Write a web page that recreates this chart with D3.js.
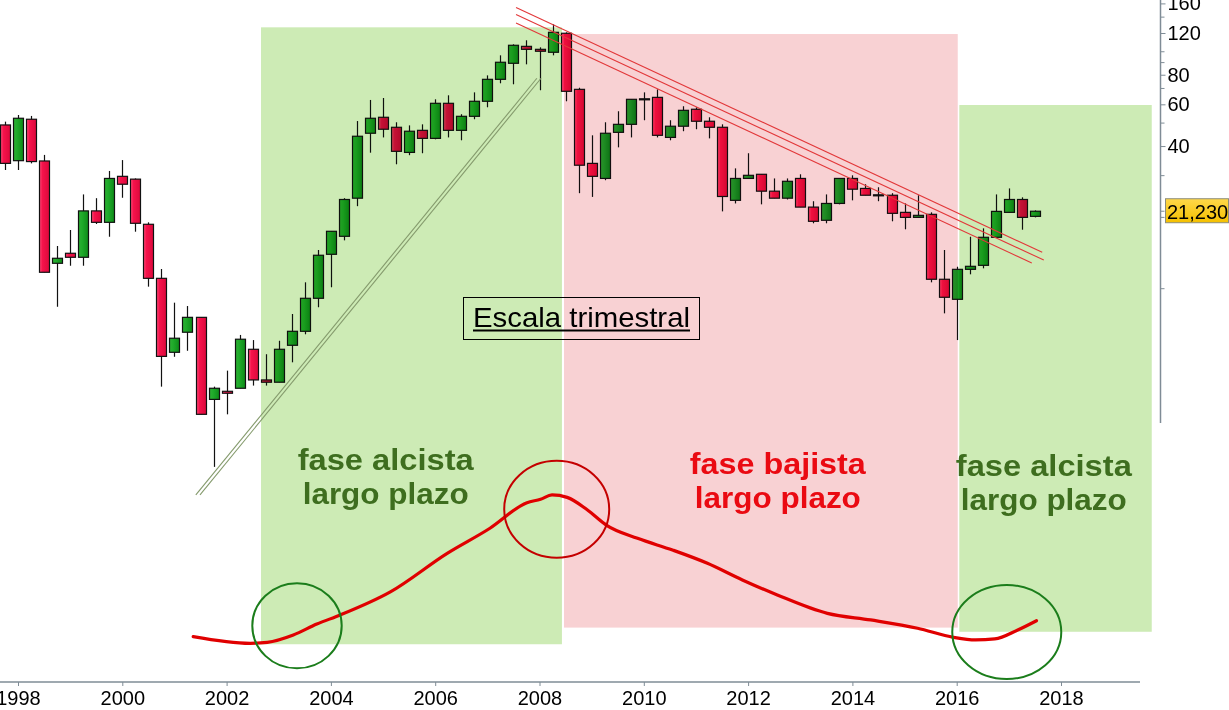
<!DOCTYPE html>
<meta charset="utf-8">
<script src="https://d3js.org/d3.v7.min.js"></script>
<style>
body { margin: 0; background: #fff; }
svg { display: block; font-family: "Liberation Sans", Arial, sans-serif; }
.candles { mix-blend-mode: multiply; }
</style>
<div id="chart"></div>
<script>

// quarterly candles, 1997Q4 .. 2017Q3
var quarters = [
  "1997Q4",
  "1998Q1","1998Q2","1998Q3","1998Q4","1999Q1","1999Q2","1999Q3","1999Q4",
  "2000Q1","2000Q2","2000Q3","2000Q4","2001Q1","2001Q2","2001Q3","2001Q4",
  "2002Q1","2002Q2","2002Q3","2002Q4","2003Q1","2003Q2","2003Q3","2003Q4",
  "2004Q1","2004Q2","2004Q3","2004Q4","2005Q1","2005Q2","2005Q3","2005Q4",
  "2006Q1","2006Q2","2006Q3","2006Q4","2007Q1","2007Q2","2007Q3","2007Q4",
  "2008Q1","2008Q2","2008Q3","2008Q4","2009Q1","2009Q2","2009Q3","2009Q4",
  "2010Q1","2010Q2","2010Q3","2010Q4","2011Q1","2011Q2","2011Q3","2011Q4",
  "2012Q1","2012Q2","2012Q3","2012Q4","2013Q1","2013Q2","2013Q3","2013Q4",
  "2014Q1","2014Q2","2014Q3","2014Q4","2015Q1","2015Q2","2015Q3","2015Q4",
  "2016Q1","2016Q2","2016Q3","2016Q4","2017Q1","2017Q2","2017Q3"
];
var openV = [49.1,
  34.7,51.9,34.6,12.80,14.11,13.57,21.3,19.06,
  29.8,29.0,18.70,11.06,5.39,6.55,7.57,3.41,
  3.69,3.80,5.55,4.12,4.03,5.77,6.61,9.11,
  13.97,16.64,24.1,45.3,52.9,48.0,37.6,46.6,
  43.1,60.6,46.6,53.4,61.8,76.5,89.4,105.4,
  102.4,99.5,119.7,69.4,33.8,29.2,45.7,49.4,
  63.3,64.2,43.5,48.5,57.2,50.9,48.0,23.6,
  29.2,30.4,25.8,24.1,29.2,22.1,19.44,22.9,
  29.2,26.5,24.9,24.8,21.0,20.0,20.6,10.96,
  9.02,12.07,12.55,16.48,21.0,23.8,20.2];
var highV = [50.7,
  54.1,53.6,36.7,15.14,17.69,25.0,24.1,31.4,
  34.9,29.2,19.06,12.11,8.73,8.45,7.57,3.86,
  4.51,6.38,6.07,5.29,6.03,7.82,10.64,14.57,
  17.47,24.1,51.0,62.6,63.8,50.4,48.9,49.4,
  63.0,65.5,54.5,67.4,79.5,96.6,107.5,111.8,
  104.4,130.6,120.8,70.5,44.4,50.4,56.1,63.0,
  67.4,69.4,51.4,58.9,58.3,52.9,49.4,32.2,
  37.3,30.4,29.2,29.2,30.4,23.4,25.0,29.2,
  30.1,27.6,26.8,25.3,22.9,24.8,21.0,14.57,
  12.38,16.57,17.98,25.0,26.5,24.3,21.4];
var lowV = [31.7,
  31.7,33.8,11.73,8.39,12.50,12.50,18.75,16.57,
  24.2,17.40,10.20,3.86,5.16,5.47,2.95,1.77,
  2.95,3.80,3.90,3.90,4.03,4.89,6.42,8.35,
  10.14,16.0,22.3,37.5,43.5,33.5,36.6,37.3,
  42.7,43.5,42.3,51.9,58.3,73.6,72.9,88.5,
  68.8,96.6,61.8,25.3,24.4,28.7,39.5,43.5,
  51.4,43.5,42.3,46.2,47.1,43.1,21.2,22.9,
  29.2,22.7,24.1,23.8,22.1,18.88,18.88,22.7,
  23.6,24.8,23.4,19.25,17.81,20.0,10.64,7.87,
  6.07,11.50,12.19,16.48,21.0,17.74,20.0];
var closeV = [33.8,
  52.4,34.4,11.73,13.44,13.57,21.3,19.06,29.2,
  27.6,18.88,11.06,5.18,6.18,7.57,2.95,3.80,
  3.62,6.12,4.12,4.03,5.55,6.61,9.11,13.84,
  17.47,23.8,44.0,52.4,47.1,38.0,46.2,43.1,
  60.6,46.6,53.4,61.8,76.5,90.3,106.5,102.4,
  100.5,120.8,68.1,33.2,29.8,45.3,49.4,63.0,
  63.3,44.4,48.5,56.6,50.9,48.0,24.5,29.2,
  30.1,25.8,24.1,28.4,22.1,19.25,22.9,29.2,
  26.3,24.8,24.9,20.8,20.0,20.4,10.96,9.20,
  12.07,12.43,16.48,21.2,23.8,20.0,21.23];

// long-term indicator (lower panel)
var indDates = [2001.36, 2002.45, 2002.78, 2003.28, 2003.73, 2004.18, 2005.14, 2006.23,
  2007.05, 2007.76, 2008.02, 2008.24, 2008.53, 2008.92, 2009.28, 2009.88, 2010.55,
  2011.22, 2011.89, 2012.56, 2013.52, 2014.35, 2015.25, 2015.94, 2016.36, 2016.73,
  2017.17, 2017.53];
var indValues = [8.4, 4.2, 4.8, 9.4, 16.2, 21.9, 36.3, 60.4,
  76.1, 92.1, 94.2, 96.9, 95.4, 87.5, 78.1, 69.8, 62.5,
  54.2, 43.8, 34.4, 22.9, 18.8, 13.6, 7.9, 6.3, 6.9,
  12.5, 18.3];

// phases
var phaseNames = ["alcista", "bajista", "alcista"];
var phaseStart = [2002.66, 2008.47, 2016.05];
var phaseEnd = [2008.43, 2016.02, 2019.74];
var phaseTop = [126.8, 118.8, 59.6];     // price
var phaseBottom = [3.6, 14, 11.4];       // indicator
var phaseLabel1 = ["fase alcista", "fase bajista", "fase alcista"];
var phaseLabel2 = ["largo plazo", "largo plazo", "largo plazo"];
var phaseLabelDate = [2005.05, 2012.57, 2017.67];

// trend lines
var chanStart = [2007.55, 2007.55, 2007.55];
var chanEnd = [2017.64, 2017.67, 2017.44];
var chanStartPrice = [153.9, 143.8, 132.3];
var chanEndPrice = [14.24, 13.21, 12.84];
var supStart = [2001.41, 2001.49];
var supEnd = [2007.95, 2008.03];
var supStartPrice = [1.348, 1.348];
var supEndPrice = [77.3, 77.3];

// circled turning points on the indicator
var markDates = [2003.35, 2008.33, 2016.96];
var markValues = [15.1, 88, 11.25];
var markColors = ["#1b7d1b", "#c40000", "#1b7d1b"];

var yearTicks = [1998, 2000, 2002, 2004, 2006, 2008, 2010, 2012, 2014, 2016, 2018];
var priceTicks = [160, 120, 80, 60, 40];
var minorTicks = [140, 100, 90, 70, 50, 30, 20, 10];
var lastPrice = 21.23;

var width = 1229, height = 710;

var svg = d3.select("#chart")
  .append("svg")
    .attr("width", width)
    .attr("height", height);

var x = d3.scaleLinear().domain([2000, 2018]).range([122.3, 1061]);
var y = d3.scaleLog().domain([10, 160]).range([288.7, 3.4]);
var yi = d3.scaleLinear().domain([0, 100]).range([650, 490]);

function qDate(s) { return +s.slice(0, 4) + (+s[5] - 1) / 4; }

var candles = quarters.map(function(q, i) {
  return {date: qDate(q), o: openV[i], h: highV[i], l: lowV[i], c: closeV[i]};
});

// gradients
var defs = svg.append("defs");
function grad(id, stops) {
  var g = defs.append("linearGradient").attr("id", id)
    .attr("x1", 0).attr("x2", 1).attr("y1", 0).attr("y2", 0);
  stops.forEach(function(s) { g.append("stop").attr("offset", s[0]).attr("stop-color", s[1]); });
}
grad("gRed", [["0%", "#ff4a78"], ["30%", "#f5134b"], ["100%", "#dc083b"]]);
grad("gGreen", [["0%", "#2fae35"], ["35%", "#1fab2a"], ["100%", "#0d8a18"]]);
grad("gYellow", [["0%", "#ffd84a"], ["100%", "#f4c000"]]);
defs.select("#gYellow").attr("x2", 0).attr("y2", 1);

// phase backgrounds
svg.append("g")
  .selectAll("rect")
  .data(phaseNames)
  .enter()
  .append("rect")
    .attr("x", function(d, i) { return x(phaseStart[i]); })
    .attr("width", function(d, i) { return x(phaseEnd[i]) - x(phaseStart[i]); })
    .attr("y", function(d, i) { return y(phaseTop[i]); })
    .attr("height", function(d, i) { return yi(phaseBottom[i]) - y(phaseTop[i]); })
    .style("fill", function(d) { return d == "alcista" ? "#cdebb5" : "#f8d1d3"; });

// axes
var gx = svg.append("g").attr("transform", "translate(0,682)")
  .call(d3.axisBottom(x).tickValues(yearTicks).tickSize(4).tickFormat(d3.format("d")));
gx.select(".domain").remove();
gx.append("line").attr("x1", 0).attr("x2", 1140).attr("stroke", "#7f8c96").attr("stroke-width", 1.5);
gx.selectAll(".tick line").attr("stroke", "#7f8c96");
gx.selectAll(".tick text").attr("y", 9).attr("fill", "#000")
  .style("font-size", "20px").style("font-family", "Liberation Sans, Arial, sans-serif");

var gy = svg.append("g").attr("transform", "translate(1160.5,0)");
gy.append("line").attr("y1", 0).attr("y2", 423).attr("stroke", "#7f8c96").attr("stroke-width", 1.5);
gy.call(d3.axisRight(y).tickValues(priceTicks).tickSize(5).tickFormat(d3.format("d")));
gy.select(".domain").remove();
gy.selectAll(".tick line").attr("stroke", "#7f8c96");
gy.selectAll(".tick text").attr("x", 7).attr("fill", "#000")
  .style("font-size", "20px").style("font-family", "Liberation Sans, Arial, sans-serif");
gy.selectAll(".minor")
  .data(minorTicks.concat([lastPrice]))
  .enter()
  .append("line")
    .attr("x2", 4)
    .attr("y1", function(d) { return y(d); })
    .attr("y2", function(d) { return y(d); })
    .attr("stroke", "#7f8c96");

// candles
var cg = svg.append("g").attr("class", "candles");
cg.selectAll(".wick")
  .data(candles)
  .enter()
  .append("line")
    .attr("x1", function(d) { return Math.round(x(d.date)) + 0.5; })
    .attr("x2", function(d) { return Math.round(x(d.date)) + 0.5; })
    .attr("y1", function(d) { return y(d.h); })
    .attr("y2", function(d) { return y(d.l); })
    .attr("stroke", "#111")
    .attr("stroke-width", 1.2);
cg.selectAll(".body")
  .data(candles)
  .enter()
  .append("rect")
    .attr("x", function(d) { return Math.round(x(d.date)) - 4.5; })
    .attr("width", 10)
    .attr("y", function(d) { return y(Math.max(d.o, d.c)); })
    .attr("height", function(d) { return Math.max(1, Math.abs(y(d.o) - y(d.c))); })
    .attr("fill", function(d) {
      if (d.o == d.c) return "#111";
      return d.c > d.o ? "url(#gGreen)" : "url(#gRed)";
    })
    .attr("stroke", "#111")
    .attr("stroke-width", 1.2);

// support double line
svg.append("g").selectAll("line")
  .data(supStart)
  .enter()
  .append("line")
    .attr("x1", function(d, i) { return x(supStart[i]); })
    .attr("y1", function(d, i) { return y(supStartPrice[i]); })
    .attr("x2", function(d, i) { return x(supEnd[i]); })
    .attr("y2", function(d, i) { return y(supEndPrice[i]); })
    .attr("stroke", "#849a6c")
    .attr("stroke-width", 1.1);

// bearish channel
svg.append("g").selectAll("line")
  .data(chanStart)
  .enter()
  .append("line")
    .attr("x1", function(d, i) { return x(chanStart[i]); })
    .attr("y1", function(d, i) { return y(chanStartPrice[i]); })
    .attr("x2", function(d, i) { return x(chanEnd[i]); })
    .attr("y2", function(d, i) { return y(chanEndPrice[i]); })
    .attr("stroke", "#e2383a")
    .attr("stroke-width", 1.1);

// indicator
var line = d3.line()
  .x(function(d, i) { return x(indDates[i]); })
  .y(function(d) { return yi(d); })
  .curve(d3.curveMonotoneX);
svg.append("path")
  .datum(indValues)
  .attr("d", line)
  .attr("fill", "none")
  .attr("stroke", "#e00000")
  .attr("stroke-width", 3.2)
  .attr("stroke-linejoin", "round")
  .attr("stroke-linecap", "round");

// circles
var rx = [44.7, 52.5, 54.5], ry = [42.5, 48.5, 47];
svg.append("g").selectAll("ellipse")
  .data(markDates)
  .enter()
  .append("ellipse")
    .attr("cx", function(d) { return x(d); })
    .attr("cy", function(d, i) { return yi(markValues[i]); })
    .attr("rx", function(d, i) { return rx[i]; })
    .attr("ry", function(d, i) { return ry[i]; })
    .attr("fill", "none")
    .attr("stroke", function(d, i) { return markColors[i]; })
    .attr("stroke-width", 2);

// phase labels
var lab = svg.append("g").selectAll("g")
  .data(phaseNames)
  .enter()
  .append("g")
    .attr("transform", function(d, i) { return "translate(" + x(phaseLabelDate[i]) + ",0)"; })
    .style("fill", function(d) { return d == "alcista" ? "#3e6e1f" : "#ea0a12"; })
    .style("font-weight", "bold")
    .style("font-size", "30px")
    .attr("text-anchor", "middle");
lab.append("text")
  .attr("y", function(d, i) { return [470, 474, 476][i]; })
  .attr("textLength", 176)
  .attr("lengthAdjust", "spacingAndGlyphs")
  .text(function(d, i) { return phaseLabel1[i]; });
lab.append("text")
  .attr("y", function(d, i) { return [504, 508, 510][i]; })
  .attr("textLength", 166)
  .attr("lengthAdjust", "spacingAndGlyphs")
  .text(function(d, i) { return phaseLabel2[i]; });

// "Escala trimestral" box
var box = svg.append("g");
box.append("rect")
  .attr("x", 463.5).attr("y", 297.5).attr("width", 236).attr("height", 42)
  .attr("fill", "none").attr("stroke", "#000").attr("stroke-width", 1);
box.append("text")
  .attr("x", 473).attr("y", 326.5)
  .attr("textLength", 217).attr("lengthAdjust", "spacingAndGlyphs")
  .style("font-size", "28px").style("fill", "#000")
  .text("Escala trimestral");
box.append("line")
  .attr("x1", 473).attr("x2", 690).attr("y1", 330.5).attr("y2", 330.5)
  .attr("stroke", "#000").attr("stroke-width", 2);

// last price label
var fmt = d3.formatLocale({decimal: ",", thousands: ".", grouping: [3], currency: ["", "€"]}).format(".3f");
var pl = svg.append("g").attr("transform", "translate(0," + y(lastPrice) + ")");
pl.append("rect")
  .attr("x", 1165.5).attr("y", -12.5).attr("width", 63).attr("height", 24)
  .attr("fill", "url(#gYellow)").attr("stroke", "#8d8d7a");
pl.append("text")
  .attr("x", 1167).attr("y", 7.5)
  .style("font-size", "20px").style("fill", "#000")
  .text(fmt(lastPrice));

</script>
